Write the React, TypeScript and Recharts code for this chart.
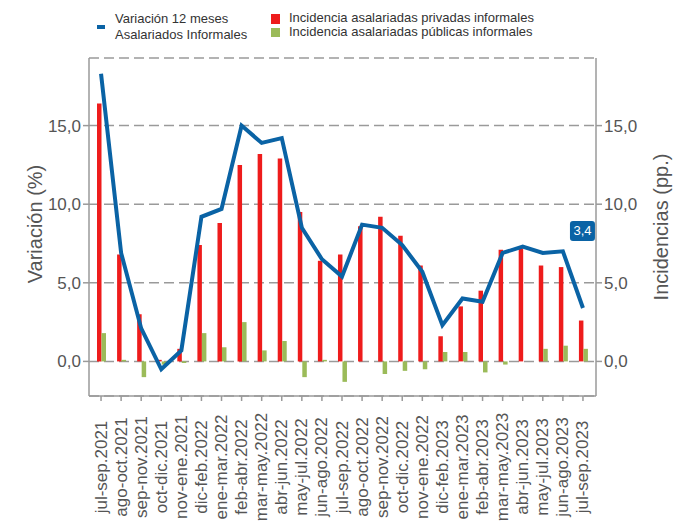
import React from 'react';
import { ComposedChart, Bar, Line, XAxis, YAxis, CartesianGrid, LabelList } from 'recharts';

const categories = [
  'jul-sep.2021', 'ago-oct.2021', 'sep-nov.2021', 'oct-dic.2021', 'nov-ene.2021',
  'dic-feb.2022', 'ene-mar.2022', 'feb-abr.2022', 'mar-may.2022', 'abr-jun.2022',
  'may-jul.2022', 'jun-ago.2022', 'jul-sep.2022', 'ago-oct.2022', 'sep-nov.2022',
  'oct-dic.2022', 'nov-ene.2022', 'dic-feb.2023', 'ene-mar.2023', 'feb-abr.2023',
  'mar-may.2023', 'abr-jun.2023', 'may-jul.2023', 'jun-ago.2023', 'jul-sep.2023',
];
const variacion = [18.3, 6.9, 2.1, -0.5, 0.7, 9.2, 9.7, 15.0, 13.9, 14.2, 8.5, 6.5, 5.4, 8.7, 8.5, 7.4, 5.7, 2.3, 4.0, 3.8, 6.9, 7.3, 6.9, 7.0, 3.4];
const privadas = [16.4, 6.8, 3.0, 0.1, 0.8, 7.4, 8.8, 12.5, 13.2, 12.9, 9.5, 6.4, 6.8, 8.6, 9.2, 8.0, 6.1, 1.6, 3.5, 4.5, 7.1, 7.2, 6.1, 6.0, 2.6];
const publicas = [1.8, 0.1, -1.0, -0.2, -0.1, 1.8, 0.9, 2.5, 0.7, 1.3, -1.0, 0.1, -1.3, 0.0, -0.8, -0.6, -0.5, 0.6, 0.6, -0.7, -0.2, 0.0, 0.8, 1.0, 0.8];
const yTicks = [0, 5, 10, 15];

const data = categories.map((c, i) => ({ cat: c, variacion: variacion[i], privadas: privadas[i], publicas: publicas[i] }));

const BLUE = '#0a63a5';
const RED = '#ee1c1c';
const GREEN = '#9bbb59';
const AXIS = '#9a9a9a';
const TXT = '#555555';
const FONT = 'Liberation Sans, Arial, sans-serif';

const fmt = (v: number) => v.toFixed(1).replace('.', ',');

const XTick = (props: any) => {
  const { x, y, payload } = props;
  const cy = y + 64;
  return (
    <text x={x} y={cy} transform={`rotate(-90, ${x}, ${cy})`} textAnchor="middle" dominantBaseline="central" fill={TXT} fontSize={17} fontFamily={FONT}>
      {payload.value}
    </text>
  );
};

const LastLabel = (props: any) => {
  const { x, y, index, value } = props;
  if (index !== categories.length - 1) return null;
  const cy = y - 77;
  return (
    <g>
      <rect x={x - 13} y={cy - 10} width={25} height={20} rx={3} fill={BLUE} />
      <text x={x - 0.5} y={cy} textAnchor="middle" dominantBaseline="central" fill="#fff" fontSize={13} fontFamily={FONT}>{fmt(value)}</text>
    </g>
  );
};

export default function App() {
  return (
    <div style={{ position: 'absolute', left: 0, top: 0, width: 681, height: 521, background: '#fff', fontFamily: FONT, overflow: 'hidden' }}>
      <div style={{ position: 'absolute', left: 97, top: 25, width: 8, height: 4, background: BLUE }} />
      <div style={{ position: 'absolute', left: 115, top: 11, fontSize: 13, lineHeight: '16px', color: '#333' }}>
        Variación 12 meses<br />Asalariados Informales
      </div>
      <div style={{ position: 'absolute', left: 271, top: 14, width: 9, height: 10, background: RED }} />
      <div style={{ position: 'absolute', left: 271, top: 28, width: 9, height: 9, background: GREEN }} />
      <div style={{ position: 'absolute', left: 289, top: 11, fontSize: 13, lineHeight: '14px', color: '#333' }}>
        Incidencia asalariadas privadas informales<br />Incidencia asalariadas públicas informales
      </div>
      <ComposedChart width={681} height={521} data={data} margin={{ top: 58, right: 0, bottom: 5, left: 0 }} barGap={0} barSize={4.5}>
        <CartesianGrid yAxisId="left" vertical={false} stroke={AXIS} strokeWidth={1.5} strokeDasharray="10 5" />
        <XAxis dataKey="cat" interval={0} height={120} padding={{ left: 2, right: 3 }} tick={<XTick />} tickLine={{ stroke: AXIS, strokeWidth: 1.5 }} axisLine={{ stroke: AXIS, strokeWidth: 1.5 }} tickSize={5} />
        <YAxis yAxisId="left" width={89} domain={[-2.2, 19.3]} ticks={yTicks} tickFormatter={fmt} allowDataOverflow
          tick={{ fill: TXT, fontSize: 17, fontFamily: FONT }} tickLine={{ stroke: AXIS, strokeWidth: 1.5 }} axisLine={{ stroke: AXIS, strokeWidth: 1.5 }}
          label={{ content: (p: any) => { const vb = p.viewBox; const cx = vb.x + 35; const cy = vb.y + vb.height / 2 - 3; return <text x={cx} y={cy} transform={`rotate(-90, ${cx}, ${cy})`} textAnchor="middle" dominantBaseline="central" fill={TXT} fontSize={20} fontFamily={FONT}>Variación (%)</text>; } }} />
        <YAxis yAxisId="right" orientation="right" width={85} domain={[-2.2, 19.3]} ticks={yTicks} tickFormatter={fmt} allowDataOverflow
          tick={{ fill: TXT, fontSize: 17, fontFamily: FONT }} tickLine={{ stroke: AXIS, strokeWidth: 1.5 }} axisLine={{ stroke: AXIS, strokeWidth: 1.5 }}
          label={{ content: (p: any) => { const vb = p.viewBox; const cx = vb.x + 65; const cy = vb.y + vb.height / 2; return <text x={cx} y={cy} transform={`rotate(-90, ${cx}, ${cy})`} textAnchor="middle" dominantBaseline="central" fill={TXT} fontSize={20} fontFamily={FONT}>Incidencias (pp.)</text>; } }} />
        <Bar yAxisId="right" dataKey="privadas" fill={RED} isAnimationActive={false} />
        <Bar yAxisId="right" dataKey="publicas" fill={GREEN} isAnimationActive={false} />
        <Line yAxisId="left" dataKey="variacion" stroke={BLUE} strokeWidth={4} dot={false} activeDot={false} isAnimationActive={false}>
          <LabelList dataKey="variacion" content={<LastLabel />} />
        </Line>
      </ComposedChart>
    </div>
  );
}
